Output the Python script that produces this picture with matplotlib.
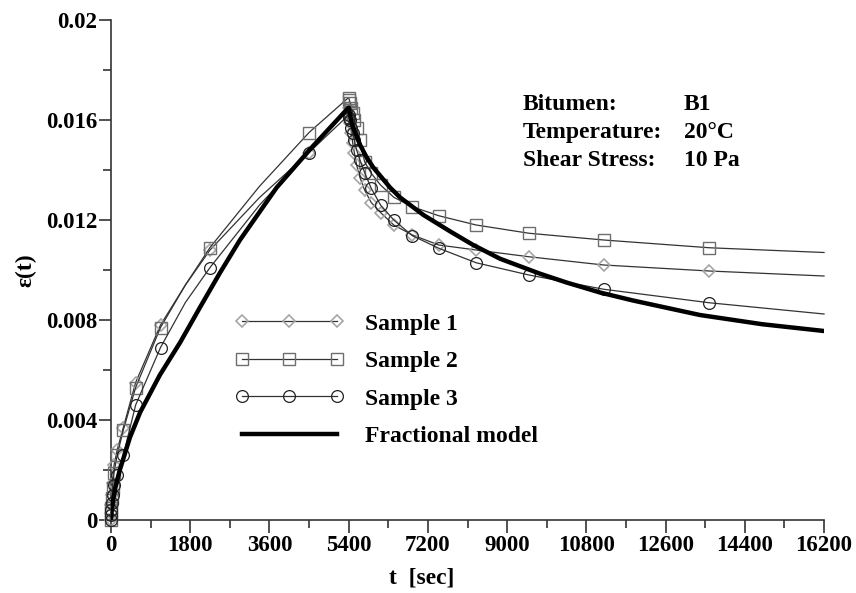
import matplotlib
matplotlib.use('Agg')
import matplotlib.pyplot as plt
from matplotlib.lines import Line2D
from matplotlib.ticker import MultipleLocator

plt.rcParams['font.family'] = ['Liberation Serif', 'DejaVu Serif']
plt.rcParams['font.weight'] = 'bold'

# loading phase (0 - 5400 s)
t_load = [0, 4.4, 8.8, 17.6, 35, 70, 140, 280, 560, 1125, 1690, 2250, 3375, 4500, 5400]
s1_load = [0, 0.0003, 0.0006, 0.0010, 0.0015, 0.0022, 0.0028, 0.0037, 0.0055, 0.0078, 0.0094, 0.0108, 0.0129, 0.0147, 0.0165]
s2_load = [0, 0.0003, 0.0005, 0.0009, 0.0013, 0.0019, 0.0026, 0.0036, 0.0053, 0.0077, 0.0094, 0.0109, 0.01335, 0.0155, 0.0169]
s3_load = [0, 0.0002, 0.0004, 0.0007, 0.0010, 0.0014, 0.0018, 0.0026, 0.0046, 0.0069, 0.0087, 0.0101, 0.0126, 0.0147, 0.0162]

# recovery phase (after 5400 s)
t_rec = [5416, 5432, 5464, 5490, 5528, 5581, 5656, 5762, 5912, 6124, 6424, 6848, 7448, 8296, 9496, 11193, 13592, 16200]
s1_rec = [0.0162, 0.0159, 0.0155, 0.0151, 0.0147, 0.0142, 0.0137, 0.0132, 0.0127, 0.0123, 0.0118, 0.0114, 0.0110, 0.0108, 0.01053, 0.0102, 0.00996, 0.00976]
s2_rec = [0.0168, 0.0167, 0.0165, 0.0163, 0.0160, 0.0157, 0.0152, 0.01433, 0.01387, 0.0134, 0.01291, 0.01253, 0.01217, 0.0118, 0.01147, 0.0112, 0.01089, 0.0107]
s3_rec = [0.0161, 0.0160, 0.0157, 0.0155, 0.0152, 0.0148, 0.0144, 0.0139, 0.01327, 0.0126, 0.0120, 0.01137, 0.01087, 0.01029, 0.0098, 0.00923, 0.00869, 0.00824]

# fractional model
t_model = [0, 20, 50, 100, 200, 430, 660, 1110, 1570, 2020, 2480, 2930, 3765, 4560, 5400,
           5480, 5660, 5810, 5960, 6340, 6570, 7100, 7700, 8230, 8840, 9750, 10350, 11110,
           11860, 13380, 14800, 16200]
eps_model = [0, 0.00045, 0.0008, 0.0013, 0.0020, 0.0033, 0.0043, 0.0058, 0.0071, 0.0085, 0.0099,
             0.0112, 0.0133, 0.0149, 0.0165,
             0.0158, 0.0150, 0.0145, 0.0141, 0.0133, 0.0129, 0.0122, 0.01155, 0.0110, 0.01045,
             0.00985, 0.0095, 0.0091, 0.00878, 0.0082, 0.00783, 0.00756]

info_keys = ['Bitumen:', 'Temperature:', 'Shear Stress:']
info_vals = ['B1', '20°C', '10 Pa']

t_all = t_load + t_rec
# markers everywhere except the extra loading points and the last point
marks = [i for i in range(len(t_all)) if t_all[i] not in (1690, 3375, 16200)]

fig = plt.figure(figsize=(8.56, 5.93), dpi=100)
ax = fig.add_axes([111 / 856, 1 - 520 / 593, 713 / 856, 500 / 593])

line_c = '#333333'
ax.plot(t_all, s1_load + s1_rec, color=line_c, lw=0.9, marker='D', ms=6.6, mfc='none',
        mec='#a6a6a6', mew=1.2, markevery=marks, clip_on=False, zorder=3)
ax.plot(t_all, s2_load + s2_rec, color=line_c, lw=0.9, marker='s', ms=8.5, mfc='none',
        mec='#6e6e6e', mew=1.0, markevery=marks, clip_on=False, zorder=3)
ax.plot(t_all, s3_load + s3_rec, color=line_c, lw=0.9, marker='o', ms=8.5, mfc='none',
        mec='#222222', mew=0.9, markevery=marks, clip_on=False, zorder=3)
ax.plot(t_model, eps_model, color='black', lw=3.2, zorder=4)

ax.set_xlim(0, 16200)
ax.set_ylim(0, 0.02)
ax.xaxis.set_minor_locator(MultipleLocator(900))
ax.yaxis.set_minor_locator(MultipleLocator(0.002))
ax.set_xticks(range(0, 16201, 1800))
ax.set_xticklabels([str(v) for v in range(0, 16201, 1800)])
ax.set_yticks([0, 0.004, 0.008, 0.012, 0.016, 0.02])
ax.set_yticklabels(['0', '0.004', '0.008', '0.012', '0.016', '0.02'])
for s in ['top', 'right']:
    ax.spines[s].set_visible(False)
for s in ['left', 'bottom']:
    ax.spines[s].set_color('#333333')
    ax.spines[s].set_linewidth(1.2)
ax.tick_params(which='major', length=9, width=1.2, color='#333333', labelsize=16.5, pad=2)
ax.tick_params(which='minor', length=6, width=1.2, color='#333333')
ax.tick_params(axis='y', pad=1)

ax.set_xlabel('t  [sec]', fontsize=17, fontweight='bold')
ax.xaxis.set_label_coords(0.436, -0.095)
ax.set_ylabel('ε(t)', fontsize=17, fontweight='bold')
ax.yaxis.set_label_coords(-0.105, 0.5)

handles = [
    Line2D([], [], color=line_c, lw=0.9, marker='D', ms=6.6, mfc='none', mec='#a6a6a6', mew=1.2),
    Line2D([], [], color=line_c, lw=0.9, marker='s', ms=8.5, mfc='none', mec='#6e6e6e', mew=1.0),
    Line2D([], [], color=line_c, lw=0.9, marker='o', ms=8.5, mfc='none', mec='#222222', mew=0.9),
    Line2D([], [], color='black', lw=3.2),
]
labels = ['Sample 1', 'Sample 2', 'Sample 3', 'Fractional model']
ax.legend(handles, labels, loc='upper left', bbox_to_anchor=(0.174, 0.414), frameon=False,
          numpoints=3, handlelength=4.6, handletextpad=0.9, labelspacing=0.68,
          borderpad=0, borderaxespad=0, prop={'size': 17, 'weight': 'bold'})

for i in range(3):
    y = (520 - (105 + 27.5 * i)) / 500
    ax.text((523 - 111) / 713, y, info_keys[i], transform=ax.transAxes, fontsize=17,
            fontweight='bold', va='center', ha='left')
    ax.text((684 - 111) / 713, y, info_vals[i], transform=ax.transAxes, fontsize=17,
            fontweight='bold', va='center', ha='left')

fig.savefig('out.png', dpi=100)
